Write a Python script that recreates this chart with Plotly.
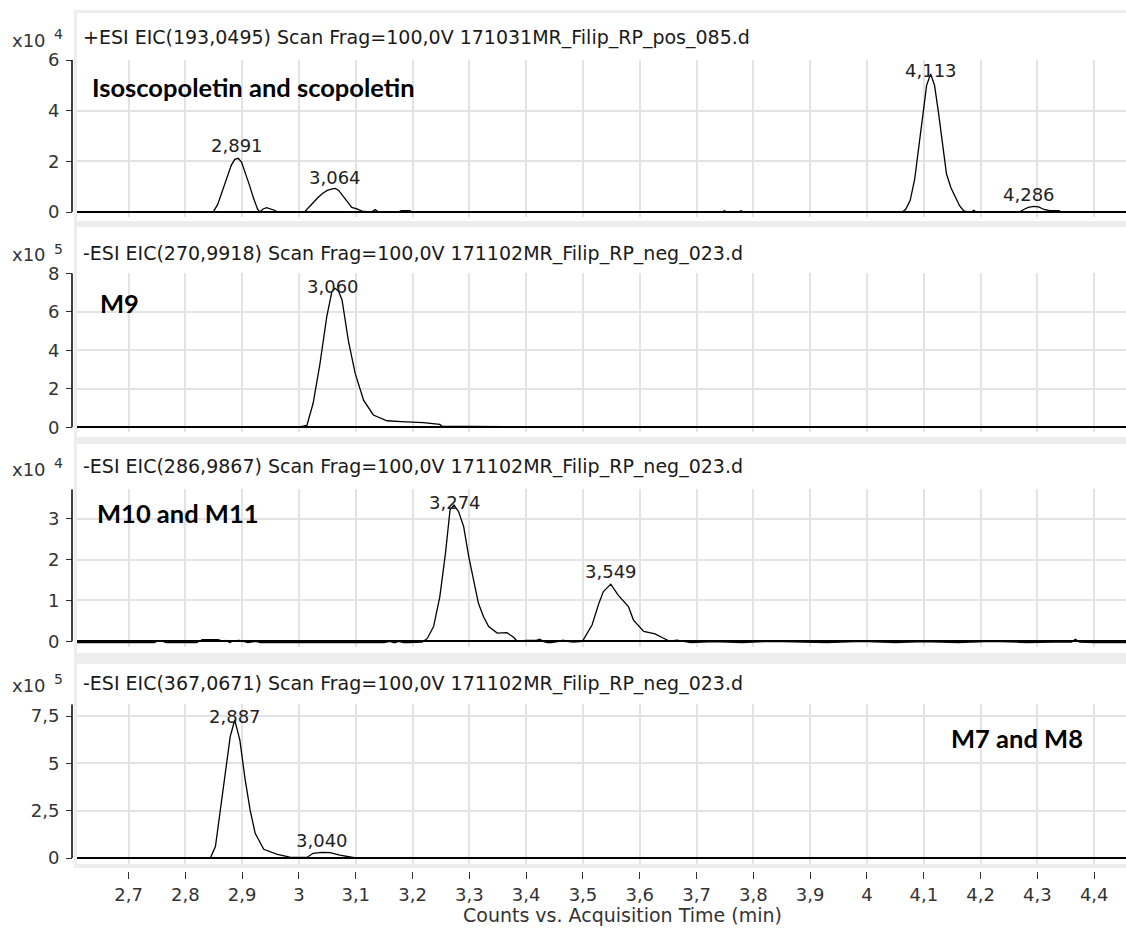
import plotly.graph_objects as go

W, H = 1126, 928

# ---------------- data (intensities in the displayed scaled units) ----------------
headers = [
    "+ESI EIC(193,0495) Scan Frag=100,0V 171031MR_Filip_RP_pos_085.d",
    "-ESI EIC(270,9918) Scan Frag=100,0V 171102MR_Filip_RP_neg_023.d",
    "-ESI EIC(286,9867) Scan Frag=100,0V 171102MR_Filip_RP_neg_023.d",
    "-ESI EIC(367,0671) Scan Frag=100,0V 171102MR_Filip_RP_neg_023.d",
]
exponents = [4, 5, 4, 5]
compound_labels = ["Isoscopoletin and scopoletin", "M9", "M10 and M11", "M7 and M8"]

t1 = [2.600, 2.849, 2.857, 2.865, 2.873, 2.881, 2.887, 2.893, 2.899, 2.906, 2.913, 2.920, 2.927, 2.931,
      2.937, 2.943, 2.950, 2.957, 2.963, 3.010, 3.018, 3.026, 3.034, 3.042, 3.050, 3.057, 3.064, 3.070,
      3.077, 3.084, 3.093, 3.102, 3.113, 3.128, 3.134, 3.140, 3.175, 3.180, 3.195, 3.200, 3.745, 3.749,
      3.753, 3.774, 3.778, 3.782, 4.062, 4.068, 4.076, 4.084, 4.091, 4.098, 4.105, 4.112, 4.119, 4.126,
      4.133, 4.140, 4.148, 4.156, 4.163, 4.170, 4.177, 4.184, 4.188, 4.192, 4.268, 4.276, 4.284, 4.293,
      4.302, 4.312, 4.322, 4.338, 4.342, 4.460]
y1 = [0, 0, 0.30, 0.80, 1.35, 1.85, 2.08, 2.12, 1.97, 1.55, 1.05, 0.55, 0.12, 0,
      0.12, 0.17, 0.13, 0.07, 0, 0, 0.20, 0.40, 0.58, 0.74, 0.85, 0.90, 0.93, 0.85,
      0.65, 0.45, 0.18, 0.12, 0.02, 0, 0.10, 0, 0, 0.05, 0.05, 0, 0, 0.05,
      0, 0, 0.05, 0, 0, 0.10, 0.45, 1.30, 2.60, 3.90, 5.00, 5.45, 5.00, 3.90,
      2.60, 1.50, 0.95, 0.55, 0.25, 0.05, 0, 0, 0.07, 0, 0, 0.10, 0.18, 0.22,
      0.20, 0.10, 0.05, 0.05, 0, 0]

t2 = [2.600, 2.996, 3.005, 3.014, 3.025, 3.037, 3.049, 3.058, 3.064, 3.070, 3.076, 3.087, 3.099, 3.114,
      3.131, 3.155, 3.180, 3.219, 3.248, 3.252, 3.300, 3.363, 3.368, 4.460]
y2 = [0, 0, 0.05, 0.10, 1.25, 3.30, 5.75, 7.05, 7.22, 7.05, 6.60, 4.50, 2.80, 1.40,
      0.64, 0.34, 0.30, 0.24, 0.15, 0.05, 0.05, 0.04, 0, 0]

t3 = [2.600, 2.745, 2.752, 2.760, 2.767, 2.820, 2.830, 2.858, 2.866, 2.872, 2.878, 2.884, 2.896, 2.902,
      2.910, 2.925, 2.932, 2.940, 3.150, 3.160, 3.168, 3.176, 3.184, 3.192, 3.217, 3.226, 3.237, 3.248,
      3.258, 3.266, 3.273, 3.281, 3.290, 3.299, 3.308, 3.316, 3.325, 3.334, 3.349, 3.366, 3.378, 3.384,
      3.400, 3.418, 3.424, 3.430, 3.437, 3.444, 3.458, 3.465, 3.472, 3.483, 3.499, 3.516, 3.528, 3.536,
      3.549, 3.562, 3.580, 3.589, 3.607, 3.627, 3.641, 3.653, 3.665, 3.690, 3.730, 3.780, 3.830, 3.880,
      3.930, 3.990, 4.050, 4.100, 4.160, 4.220, 4.280, 4.330, 4.360, 4.367, 4.374, 4.400, 4.460]
y3 = [-0.03, -0.03, 0.01, 0.00, -0.03, -0.03, 0.04, 0.04, 0.00, 0.02, -0.03, 0.01, 0.02, 0.00,
      -0.03, 0.00, -0.03, -0.03, -0.03, 0.00, -0.04, 0.00, -0.03, -0.03, -0.02, 0.07, 0.36, 1.09,
      2.16, 3.22, 3.34, 3.18, 2.81, 2.07, 1.42, 0.93, 0.60, 0.36, 0.20, 0.21, 0.10, 0.00,
      0.02, 0.02, 0.05, 0.00, -0.03, -0.03, 0.00, 0.03, 0.00, -0.02, 0.00, 0.40, 0.93, 1.22,
      1.40, 1.13, 0.85, 0.52, 0.24, 0.18, 0.08, 0.00, 0.03, -0.03, -0.01, -0.03, 0.00, -0.02,
      -0.03, 0.00, -0.03, -0.01, -0.03, 0.00, -0.03, -0.02, -0.02, 0.05, -0.02, -0.03, -0.03]

t4 = [2.600, 2.844, 2.853, 2.861, 2.870, 2.879, 2.887, 2.896, 2.905, 2.914, 2.923, 2.938, 2.962, 2.984,
      3.014, 3.025, 3.040, 3.055, 3.072, 3.088, 3.100, 4.460]
y4 = [0, 0, 0.60, 2.36, 4.47, 6.41, 7.29, 6.23, 4.21, 2.54, 1.30, 0.46, 0.19, 0.05,
      0.03, 0.25, 0.30, 0.28, 0.15, 0.05, 0, 0]

# peak retention-time labels (x) and the height at which each label sits (y)
peak_t = [[2.891, 3.064, 4.113, 4.286], [3.060], [3.274, 3.549], [2.887, 3.040]]
peak_label_y = [[2.64, 1.38, 5.57, 0.71], [7.34], [3.41, 1.72], [7.50, 0.95]]

y_ticks = [[0, 2, 4, 6], [0, 2, 4, 6, 8], [0, 1, 2, 3], [0, 2.5, 5, 7.5]]
y_ranges = [[-0.197, 6.0], [-0.244, 8.0], [-0.14, 3.725], [-0.317, 8.12]]
x_ticks = [2.7, 2.8, 2.9, 3.0, 3.1, 3.2, 3.3, 3.4, 3.5, 3.6, 3.7, 3.8, 3.9, 4.0, 4.1, 4.2, 4.3, 4.4]
x_range = [2.6093, 4.456]
x_title = "Counts vs. Acquisition Time (min)"

series_t = [t1, t2, t3, t4]
series_y = [y1, y2, y3, y4]

# ---------------- layout geometry (pixels) ----------------
plot_px = [(60, 217), (273.3, 432), (489.3, 647), (704.3, 864)]
header_py = [38, 253, 467, 683]
frame_px = [(13, 221), (227, 437), (444, 653), (664, 864)]
comp_pos = [(90, 87, "left"), (98, 303, "left"), (95, 513, "left"), (1085, 738, "right")]

def px(x):
    return x / W

def py(y):
    return 1 - y / H

FONT = "DejaVu Sans, sans-serif"
BOLD_FONT = "Lato, Open Sans, sans-serif"
GRID = "#e3e3e3"
TXT = "#333333"

fig = go.Figure()
layout = dict(
    width=W, height=H, margin=dict(l=0, r=0, t=0, b=0, pad=0),
    paper_bgcolor="white", plot_bgcolor="rgba(0,0,0,0)",
    showlegend=False, separators=",.", template="none",
    font=dict(family=FONT, size=16, color=TXT),
)

shapes = []
annotations = []

# gray frame backdrop and white panels
shapes.append(dict(type="rect", xref="paper", yref="paper", x0=px(74), x1=px(1126), y0=py(10), y1=py(868),
                   fillcolor="#ededed", line=dict(width=0), layer="below"))
for (a, b) in frame_px:
    shapes.append(dict(type="rect", xref="paper", yref="paper", x0=px(77), x1=px(1126), y0=py(a), y1=py(b),
                       fillcolor="white", line=dict(width=0), layer="below"))

for i in range(4):
    n = i + 1
    xa = "x" if n == 1 else f"x{n}"
    ya = "y" if n == 1 else f"y{n}"
    fig.add_trace(go.Scatter(x=series_t[i], y=series_y[i], mode="lines", xaxis=xa, yaxis=ya,
                             line=dict(color="black", width=1.3), hoverinfo="skip"))
    top, bot = plot_px[i]
    xaxis = dict(domain=[px(77), 1], range=x_range, tickvals=x_ticks, showgrid=True, gridcolor=GRID,
                 gridwidth=1.5, zeroline=False, showline=False, anchor=ya, automargin=False,
                 fixedrange=True)
    if n < 4:
        xaxis.update(showticklabels=False, ticks="")
    else:
        xaxis.update(anchor="free", position=py(871), ticks="outside", ticklen=7, tickwidth=1.3,
                     tickcolor=TXT, showticklabels=True,
                     tickfont=dict(family=FONT, size=18, color=TXT))
    yaxis = dict(domain=[py(bot), py(top)], range=y_ranges[i], tickvals=y_ticks[i],
                 showgrid=True, gridcolor=GRID, gridwidth=1.5, zeroline=True, zerolinecolor="black",
                 zerolinewidth=1.6, showline=False, anchor="free", position=px(72), ticks="outside",
                 ticklen=6, tickwidth=1.3, tickcolor=TXT, automargin=False, fixedrange=True,
                 ticklabelstandoff=3,
                 tickfont=dict(family=FONT, size=18, color=TXT))
    layout["xaxis" if n == 1 else f"xaxis{n}"] = xaxis
    layout["yaxis" if n == 1 else f"yaxis{n}"] = yaxis

    # left y axis line from 0 to the top of the range
    shapes.append(dict(type="line", xref="paper", yref=ya, x0=px(72), x1=px(72), y0=0, y1=y_ranges[i][1],
                       line=dict(color="black", width=1.5)))

    # header & exponent
    annotations.append(dict(xref="paper", yref="paper", x=px(81), y=py(header_py[i]), xanchor="left",
                            yanchor="middle", showarrow=False, text=headers[i],
                            font=dict(family=FONT, size=19, color="#1a1a1a")))
    annotations.append(dict(xref="paper", yref="paper", x=px(48), y=py(header_py[i] + 2), xanchor="right",
                            yanchor="middle", showarrow=False, text="x10",
                            font=dict(family=FONT, size=18, color=TXT)))
    annotations.append(dict(xref="paper", yref="paper", x=px(52), y=py(header_py[i] - 4), xanchor="left",
                            yanchor="middle", showarrow=False, text=str(exponents[i]),
                            font=dict(family=FONT, size=14, color=TXT)))
    # compound label
    cx, cy, anc = comp_pos[i]
    annotations.append(dict(xref="paper", yref="paper", x=px(cx), y=py(cy), xanchor=anc, yanchor="middle",
                            showarrow=False, text=f"<b>{compound_labels[i]}</b>",
                            font=dict(family=BOLD_FONT, size=25.5, color="black")))
    # peak labels
    for t, yl in zip(peak_t[i], peak_label_y[i]):
        annotations.append(dict(xref=xa, yref=ya, x=t, y=yl, xanchor="center", yanchor="middle",
                                showarrow=False, text=f"{t:.3f}".replace(".", ","),
                                font=dict(family=FONT, size=18, color="#222222")))

annotations.append(dict(xref="paper", yref="paper", x=px(622), y=py(915), xanchor="center", yanchor="middle",
                        showarrow=False, text=x_title, font=dict(family=FONT, size=19, color=TXT)))

layout["shapes"] = shapes
layout["annotations"] = annotations
fig.update_layout(**layout)
fig.write_html("out.html")
